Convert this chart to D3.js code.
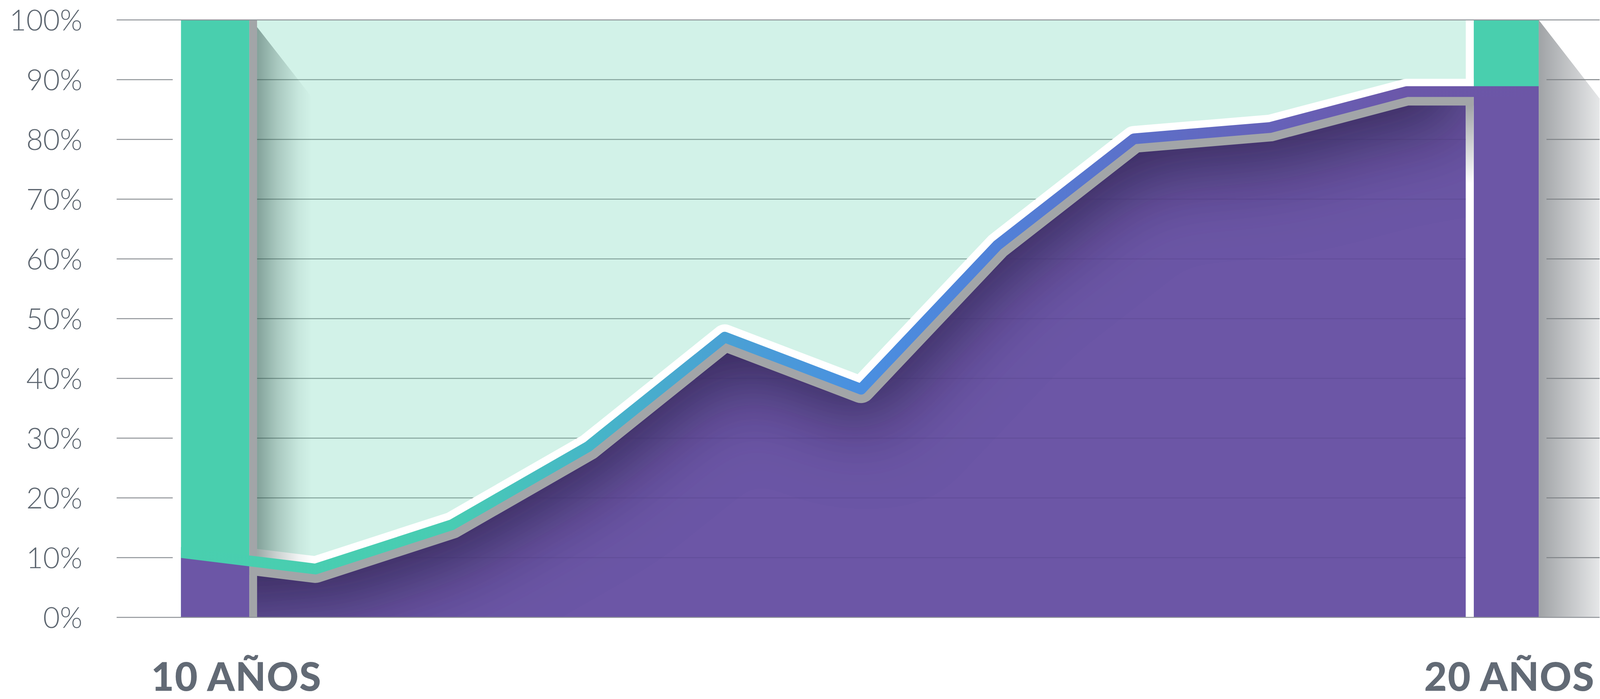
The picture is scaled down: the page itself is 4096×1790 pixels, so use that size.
<!DOCTYPE html>
<html><head><meta charset="utf-8">
<script src="https://cdn.jsdelivr.net/npm/d3@7"></script>
<style>html,body{margin:0;padding:0;background:#fff;overflow:hidden}</style>
</head><body>
<svg id="chart" width="4096" height="1790"></svg>
<script>
// ---------------- data ----------------
const ages = [10, 11, 12, 13, 14, 15, 16, 17, 18, 19, 20];
const purpleShare = [10.9, 8.1, 15.5, 28.6, 46.9, 38.2, 62.3, 80.1, 82.0, 88.0, 88.0];
const yTicks = [0, 10, 20, 30, 40, 50, 60, 70, 80, 90, 100];
const tickLabels = ["0%", "10%", "20%", "30%", "40%", "50%", "60%", "70%", "80%", "90%", "100%"];
const endLabels = ["10 AÑOS", "20 AÑOS"];

// ---------------- layout (reference px, scaled by K) ----------------
const K = 0.951;
const x = d3.scaleLinear().domain([10, 20]).range([482, 4154]);
const y = d3.scaleLinear().domain([0, 100]).range([1662.5, 53.6]);
const LB = [487, 671], SL = [671, 692], IN = [692, 3946], SR = [3946, 3967], RB = [3967, 4142], SH = [4142, 4306];
const TEAL = "#49cfae", PURPLE = "#6c56a6", MINT = "#d2f2e8", GREY = "#a2a5a8";
const bandHalf = 14.5, whiteW = 20, greyW = 23;

const svg = d3.select("#chart");
const defs = svg.append("defs");
const root = svg.append("g").attr("transform", `scale(${K})`);

const pts = purpleShare.map((v, i) => [x(ages[i]), y(v)]);
const line = d3.line().x(d => d[0]).y(d => d[1]);
const areaBelow = d3.area().x(d => d[0]).y0(y(0)).y1(d => d[1]);
const areaAboveClip = d3.area().x(d => d[0]).y0(-400).y1(d => d[1]);
const areaBelowClip = d3.area().x(d => d[0]).y0(d => d[1]).y1(2000);

function rectClip(id, ranges) {
  const c = defs.append("clipPath").attr("id", id).attr("clipPathUnits", "userSpaceOnUse");
  ranges.forEach(r => c.append("rect").attr("x", r[0]).attr("y", -400).attr("width", r[1] - r[0]).attr("height", 2600));
}
rectClip("cBars", [LB, RB]);
rectClip("cInner", [IN]);
rectClip("cInnerWide", [[SL[0], SR[1]]]);
rectClip("cBandX", [[LB[0], RB[1]]]);
rectClip("cShadowX", [[IN[0], 900]]);
defs.append("clipPath").attr("id", "cAbove").attr("clipPathUnits", "userSpaceOnUse")
  .append("path").attr("d", areaAboveClip(pts));
defs.append("clipPath").attr("id", "cBelow").attr("clipPathUnits", "userSpaceOnUse")
  .append("path").attr("d", areaBelowClip(pts));

// gradients
function linGrad(id, x1, y1, x2, y2, stops) {
  const g = defs.append("linearGradient").attr("id", id).attr("gradientUnits", "userSpaceOnUse")
    .attr("x1", x1).attr("y1", y1).attr("x2", x2).attr("y2", y2);
  stops.forEach(s => g.append("stop").attr("offset", s[0]).attr("stop-color", s[1]).attr("stop-opacity", s[2] == null ? 1 : s[2]));
}
linGrad("gBand", x(10), 0, x(20), 0, [
  [0, "#49cfae"], [0.2, "#48ccb3"], [0.3, "#46b6c7"], [0.4, "#4aa1d4"], [0.5, "#4a8fe0"],
  [0.6, "#5181d8"], [0.7, "#5c70c9"], [0.8, "#6662b9"], [0.9, "#6b57a9"], [1, "#6c56a6"]]);
linGrad("gLeftShadow", IN[0], 0, 840, 0, [
  [0, "rgb(30,60,55)", 0.44], [0.365, "rgb(30,60,55)", 0.23], [0.757, "rgb(30,60,55)", 0.06], [1, "rgb(30,60,55)", 0]]);
linGrad("gRightShadow", SH[0], 0, 4330, 0, [[0, "#a0a3a6"], [1, "#f0f1f2"]]);
const yFlat = y(purpleShare[purpleShare.length - 1]);
linGrad("gRightStrip", 0, yFlat + bandHalf + greyW, 0, yFlat + bandHalf + greyW + 210, [[0, GREY], [1, "#ffffff"]]);

// inner shadow filter for the dark purple
const f = defs.append("filter").attr("id", "inset").attr("filterUnits", "userSpaceOnUse")
  .attr("x", 450).attr("y", -200).attr("width", IN[1] - 450).attr("height", y(0) + 200);
f.append("feComponentTransfer").attr("in", "SourceAlpha").attr("result", "inv")
  .append("feFuncA").attr("type", "table").attr("tableValues", "1 0");
f.append("feOffset").attr("in", "inv").attr("dx", 35).attr("dy", 120).attr("result", "off");
f.append("feGaussianBlur").attr("in", "off").attr("stdDeviation", 95).attr("result", "blur");
f.append("feFlood").attr("flood-color", "#1a1238").attr("flood-opacity", 0.8).attr("result", "col");
f.append("feComposite").attr("in", "col").attr("in2", "blur").attr("operator", "in").attr("result", "sh");
f.append("feComposite").attr("in", "sh").attr("in2", "SourceAlpha").attr("operator", "in").attr("result", "ish");
const fm = f.append("feMerge");
fm.append("feMergeNode").attr("in", "SourceGraphic");
fm.append("feMergeNode").attr("in", "ish");

const midTicks = yTicks.filter(t => t > 0 && t < 100);

// ---------------- bars (outer chart, seen through two windows) ----------------
const bars = root.append("g").attr("clip-path", "url(#cBars)");
bars.append("rect").attr("x", LB[0]).attr("y", y(100)).attr("width", RB[1] - LB[0]).attr("height", y(0) - y(100)).attr("fill", TEAL);
bars.append("path").attr("d", areaBelow(pts)).attr("fill", PURPLE);

// ---------------- inner chart ----------------
root.append("rect").attr("x", IN[0]).attr("y", y(100)).attr("width", IN[1] - IN[0]).attr("height", y(0) - y(100)).attr("fill", MINT);
root.append("g").selectAll("line").data(midTicks).join("line")
  .attr("x1", IN[0]).attr("x2", IN[1]).attr("y1", d => y(d)).attr("y2", d => y(d))
  .attr("stroke", "#84a39b").attr("stroke-width", 2.5);

root.append("g").attr("filter", "url(#inset)")
  .append("path").attr("d", areaBelow(pts)).attr("fill", PURPLE).attr("clip-path", "url(#cInner)");
root.append("g").attr("clip-path", "url(#cInner)")
  .append("g").attr("clip-path", "url(#cBelow)")
  .selectAll("line").data(midTicks).join("line")
  .attr("x1", IN[0]).attr("x2", IN[1]).attr("y1", d => y(d)).attr("y2", d => y(d))
  .attr("stroke", "#3a2d66").attr("stroke-opacity", 0.16).attr("stroke-width", 2.5);

// right strip (white above band, grey→white below)
root.append("rect").attr("x", SR[0]).attr("y", y(100)).attr("width", SR[1] - SR[0]).attr("height", y(0) - y(100)).attr("fill", "#fff");
root.append("rect").attr("x", SR[0]).attr("y", yFlat).attr("width", SR[1] - SR[0]).attr("height", y(0) - yFlat).attr("fill", "url(#gRightStrip)");

// white outline above the line and grey rim below it
const wide = root.append("g").attr("clip-path", "url(#cInnerWide)");
wide.append("g").attr("clip-path", "url(#cAbove)").append("path").attr("d", line(pts))
  .attr("fill", "none").attr("stroke", "#fff").attr("stroke-width", 2 * (bandHalf + whiteW)).attr("stroke-linejoin", "round");
wide.append("g").attr("clip-path", "url(#cBelow)").append("path").attr("d", line(pts))
  .attr("fill", "none").attr("stroke", GREY).attr("stroke-width", 2 * (bandHalf + greyW)).attr("stroke-linejoin", "round");

// left strip
root.append("rect").attr("x", SL[0]).attr("y", y(100)).attr("width", SL[1] - SL[0]).attr("height", y(0) - y(100)).attr("fill", GREY);

// left cast shadow in the inner panel
const slope = 0.78;
root.append("g").attr("clip-path", "url(#cShadowX)")
  .append("g").attr("clip-path", "url(#cAbove)")
  .append("path")
  .attr("d", d3.line()([[677, y(100)], [677 + slope * 400, y(100) + 400], [677 + slope * 400, y(0)], [677, y(0)]]) + "Z")
  .attr("fill", "url(#gLeftShadow)");

// coloured band
root.append("g").attr("clip-path", "url(#cBandX)").append("path").attr("d", line(pts))
  .attr("fill", "none").attr("stroke", "url(#gBand)").attr("stroke-width", 2 * bandHalf).attr("stroke-linejoin", "round");

// ---------------- right shadow ----------------
root.append("path")
  .attr("d", d3.line()([[SH[0], y(100)], [SH[1], y(100) + (SH[1] - SH[0]) / 0.775], [SH[1], y(0)], [SH[0], y(0)]]) + "Z")
  .attr("fill", "url(#gRightShadow)");
root.append("g").selectAll("line").data(midTicks).join("line")
  .attr("x1", 4163).attr("x2", SH[1]).attr("y1", d => y(d)).attr("y2", d => y(d))
  .attr("stroke", "#7f8387").attr("stroke-width", 2.5);

// ---------------- axis lines ----------------
root.append("g").selectAll("line").data(midTicks).join("line")
  .attr("x1", 314).attr("x2", 465).attr("y1", d => y(d)).attr("y2", d => y(d))
  .attr("stroke", "#8e9297").attr("stroke-width", 2.5);
root.append("g").selectAll("line").data([0, 100]).join("line")
  .attr("x1", 314).attr("x2", SH[1]).attr("y1", d => y(d)).attr("y2", d => y(d))
  .attr("stroke", "#8e9297").attr("stroke-width", 2.5);

// ---------------- tick labels ----------------
const yAxis = d3.axisLeft(y).tickValues(yTicks).tickFormat((d, i) => tickLabels[i]).tickSize(0).tickPadding(0);
const ag = root.append("g").attr("transform", "translate(222,0)").call(yAxis);
ag.select(".domain").remove();
ag.selectAll("text")
  .attr("dy", "0.36em")
  .style("font-family", "Lato, 'Open Sans', sans-serif")
  .style("font-weight", 300)
  .style("font-size", "78px")
  .attr("fill", "#5d6670");

// ---------------- end labels ----------------
root.append("g").selectAll("text").data(endLabels).join("text")
  .attr("x", (d, i) => i === 0 ? 407 : 4293)
  .attr("y", 1860)
  .attr("text-anchor", (d, i) => i === 0 ? "start" : "end")
  .style("font-family", "Lato, sans-serif")
  .style("font-weight", 900)
  .style("font-size", "106px")
  .style("letter-spacing", "2px")
  .attr("fill", "#626a75")
  .text(d => d);
</script>
</body></html>
